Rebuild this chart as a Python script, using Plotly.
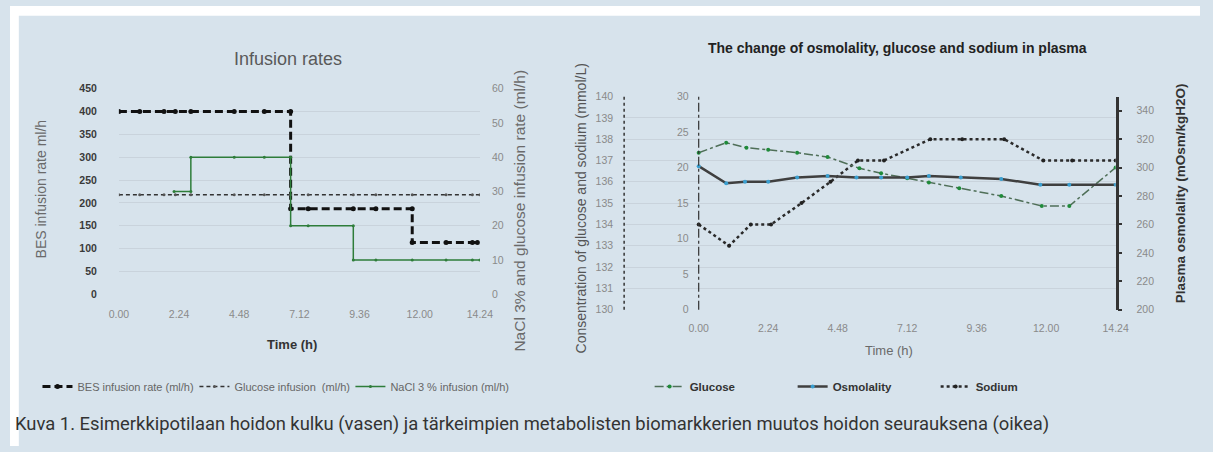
import plotly.graph_objects as go

FW, FH = 1213, 452

# ---------------- data ----------------
time_tickvals = [0, 2.4, 4.8, 7.2, 9.6, 12.0, 14.4]
time_ticktext = ["0.00", "2.24", "4.48", "7.12", "9.36", "12.00", "14.24"]

# Left chart: infusion rates
bes_t = [0, 0.83, 1.8, 2.25, 2.87, 4.6, 5.8, 6.85, 6.85, 7.55, 9.35, 10.25, 11.7, 11.7, 13.05, 14.1, 14.3]
bes_v = [400, 400, 400, 400, 400, 400, 400, 400, 187, 187, 187, 187, 187, 113, 113, 113, 113]

glu_inf_t = [0, 0.83, 1.8, 2.25, 2.87, 4.6, 5.8, 6.85, 7.55, 9.35, 10.25, 11.7, 13.05, 14.1, 14.4]
glu_inf_v = [29, 29, 29, 29, 29, 29, 29, 29, 29, 29, 29, 29, 29, 29, 29]

nacl_t = [2.2, 2.87, 2.87, 4.6, 5.8, 6.85, 6.85, 7.55, 9.35, 9.35, 10.25, 11.7, 13.05, 14.1, 14.4]
nacl_v = [30, 30, 40, 40, 40, 40, 20, 20, 20, 10, 10, 10, 10, 10, 10]

# Right chart: plasma values
na_t = [0, 1.05, 1.8, 2.5, 3.55, 4.55, 5.5, 6.4, 8.0, 9.1, 10.55, 11.9, 12.9, 14.4]
na_v = [134, 133, 134, 134, 135, 136, 137, 137, 138, 138, 138, 137, 137, 137]

osm_t = [0, 0.95, 1.6, 2.4, 3.4, 4.45, 5.45, 6.3, 7.2, 7.95, 9.05, 10.45, 11.8, 12.8, 14.4]
osm_v = [301, 289, 290, 290, 293, 294, 293, 293, 293, 294, 293, 292, 288, 288, 288]

glu_t = [0, 0.95, 1.65, 2.4, 3.4, 4.45, 5.55, 6.3, 7.2, 7.95, 9.0, 10.45, 11.85, 12.8, 14.4]
glu_v = [22.1, 23.5, 22.8, 22.5, 22.1, 21.5, 19.9, 19.2, 18.5, 17.9, 17.1, 16.0, 14.6, 14.6, 20.0]

# ---------------- helpers (screen pixel -> paper) ----------------
def px(x):
    return x / FW

def py(y):
    return 1 - y / FH

TICK_GREY = "#8a8a8a"
GRID = "#c9d3dc"
BG = "#d7e3ec"
FONT = "Liberation Sans, Arial, sans-serif"
NARROW = "Liberation Sans Narrow, Liberation Sans, sans-serif"

fig = go.Figure()

# ---- left chart traces (one legend box per entry to reproduce the spacing) ----
fig.add_trace(go.Scatter(
    x=bes_t, y=bes_v, name="BES infusion rate (ml/h)", mode="lines+markers",
    line=dict(color="#111111", width=3, dash="8px,4px"),
    marker=dict(size=5, color="#111111"), xaxis="x", yaxis="y", legend="legend"))
fig.add_trace(go.Scatter(
    x=glu_inf_t, y=glu_inf_v, name="Glucose infusion  (ml/h)", mode="lines+markers",
    line=dict(color="#333333", width=1.5, dash="4px,3px"),
    marker=dict(size=3, color="#555555"), xaxis="x", yaxis="y2", legend="legend3"))
fig.add_trace(go.Scatter(
    x=nacl_t, y=nacl_v, name="NaCl 3 % infusion (ml/h)", mode="lines+markers",
    line=dict(color="#2e7d3a", width=1.5),
    marker=dict(size=3, color="#2e7d3a"), xaxis="x", yaxis="y2", legend="legend4"))

# ---- right chart traces ----
fig.add_trace(go.Scatter(
    x=glu_t, y=glu_v, name="Glucose", mode="lines+markers",
    line=dict(color="#4f6f58", width=1.5, dash="dashdot"),
    marker=dict(size=4, color="#1f8a3a"), xaxis="x2", yaxis="y4", legend="legend2"))
fig.add_trace(go.Scatter(
    x=osm_t, y=osm_v, name="Osmolality", mode="lines+markers",
    line=dict(color="#3f3f3f", width=2.5),
    marker=dict(size=4, color="#3a9fd0"), xaxis="x2", yaxis="y5", legend="legend2"))
fig.add_trace(go.Scatter(
    x=na_t, y=na_v, name="Sodium", mode="lines+markers",
    line=dict(color="#2a2a2a", width=2.5, dash="dot"),
    marker=dict(size=4, color="#222222"), xaxis="x2", yaxis="y3", legend="legend2"))

# ---------------- geometry (screen pixels) ----------------
L_x0, L_x1 = 111, 479
L_ytop, L_ybot = 85, 296
R_ax0, R_x0, R_x1 = 626, 702, 1127
R_ytop, R_ybot = 93, 312
r_left = -(R_x0 - R_ax0) / (R_x1 - R_x0) * 14.4

tickf = dict(family=NARROW, size=10.5, color=TICK_GREY)
LEG_Y = 391
left_leg_font = dict(family=FONT, size=11, color="#666666")

def left_legend(x):
    return dict(orientation="h", x=px(x), y=py(LEG_Y), xanchor="left", yanchor="middle",
                bgcolor="rgba(0,0,0,0)", itemwidth=30, font=left_leg_font)

fig.update_layout(
    width=FW, height=FH,
    margin=dict(l=0, r=0, t=0, b=0),
    paper_bgcolor=BG, plot_bgcolor="rgba(0,0,0,0)",
    font=dict(family=FONT, color="#444444"),
    showlegend=True,
    xaxis=dict(domain=[px(L_x0), px(L_x1)], range=[0, 14.4], anchor="y",
               tickvals=time_tickvals, ticktext=time_ticktext,
               showgrid=False, zeroline=False, showline=False,
               ticks="", ticklabelstandoff=12, tickfont=tickf),
    yaxis=dict(domain=[py(L_ybot), py(L_ytop)], range=[0, 450], dtick=50, anchor="x",
               showgrid=True, gridcolor=GRID, gridwidth=1, zeroline=False, showline=False,
               ticks="", ticklabelstandoff=21,
               tickfont=dict(family=NARROW, size=10.5, color="#3a3a3a", weight="bold")),
    yaxis2=dict(range=[0, 60], dtick=10, overlaying="y", side="right", anchor="x",
                showgrid=False, zeroline=False, showline=False,
                ticks="", ticklabelstandoff=11, tickfont=tickf),
    xaxis2=dict(domain=[px(R_ax0), px(R_x1)], range=[r_left, 14.4], anchor="y3",
                tickvals=time_tickvals, ticktext=time_ticktext,
                showgrid=False, zeroline=False, showline=False,
                ticks="", ticklabelstandoff=11, tickfont=tickf),
    yaxis3=dict(domain=[py(R_ybot), py(R_ytop)], range=[130, 140], dtick=1, anchor="x2",
                showgrid=True, gridcolor=GRID, gridwidth=1, zeroline=False, showline=False,
                ticks="", ticklabelstandoff=10, tickfont=tickf),
    yaxis4=dict(range=[0, 30], dtick=5, overlaying="y3", side="left", anchor="free",
                position=px(R_x0), showgrid=False, zeroline=False, showline=False,
                ticks="", ticklabelstandoff=10, tickfont=tickf),
    yaxis5=dict(range=[200, 350], tickvals=[200, 220, 240, 260, 280, 300, 320, 340],
                overlaying="y3", side="right", anchor="x2",
                showgrid=False, zeroline=False, showline=True, linecolor="#333333", linewidth=2.5,
                ticks="outside", ticklen=4, tickwidth=1.5, tickcolor="#333333",
                ticklabelstandoff=12, tickfont=tickf),
    legend=left_legend(28),
    legend3=left_legend(188),
    legend4=left_legend(347),
    legend2=dict(orientation="h", x=px(652), y=py(LEG_Y), xanchor="left", yanchor="middle",
                 bgcolor="rgba(0,0,0,0)", itemwidth=30, entrywidth=98,
                 font=dict(family=FONT, size=11.5, color="#333333", weight="bold")),
)

# thin white strip at top/left as in the reference
fig.add_shape(type="rect", xref="paper", yref="paper", x0=0, x1=1, y0=py(10), y1=1,
              fillcolor="white", line=dict(width=0), layer="below")
fig.add_shape(type="rect", xref="paper", yref="paper", x0=0, x1=px(9), y0=0, y1=1,
              fillcolor="white", line=dict(width=0), layer="below")

# dotted sodium axis line and dash-dot glucose axis line
fig.add_shape(type="line", xref="paper", yref="paper", x0=px(R_ax0), x1=px(R_ax0),
              y0=py(R_ybot), y1=py(R_ytop), line=dict(color="#333333", width=1.5, dash="dot"))
fig.add_shape(type="line", xref="paper", yref="paper", x0=px(R_x0), x1=px(R_x0),
              y0=py(R_ybot), y1=py(R_ytop), line=dict(color="#333333", width=1.2, dash="dashdot"))

def ann(text, x, y, size=11, color="#555555", bold=False, angle=0, xanchor="center",
        yanchor="middle", family=FONT):
    fig.add_annotation(text=text, x=px(x), y=py(y), xref="paper", yref="paper",
                       showarrow=False, textangle=angle, xanchor=xanchor, yanchor=yanchor,
                       font=dict(family=family, size=size, color=color,
                                 weight="bold" if bold else "normal"))

ann("Infusion rates", 283, 54, size=18, color="#595959")
ann("The change of osmolality, glucose and sodium in plasma", 905, 43, size=14, color="#222222", bold=True)
ann("BES infusion rate ml/h", 32, 188, size=14, color="#6a6a6a", angle=-90)
ann("NaCl 3% and glucose infusion rate (ml/h)", 519, 210, size=15.5, color="#6a6a6a", angle=-90)
ann("Time (h)", 287, 348, size=13, color="#333333", bold=True)
ann("Consentration of glucose and sodium (mmol/L)", 583, 208, size=14, color="#555555", angle=-90)
ann("Plasma osmolality (mOsm/kgH2O)", 1194, 192, size=13.5, color="#333333", bold=True, angle=-90)
ann("Time (h)", 896, 354, size=13, color="#6a6a6a")
ann("Kuva 1. Esimerkkipotilaan hoidon kulku (vasen) ja tärkeimpien metabolisten biomarkkerien muutos hoidon seurauksena (oikea)",
    3, 429, size=18.4, color="#333333", xanchor="left", family="Roboto, sans-serif")

page_js = (
    "document.body.style.margin='0';"
    "document.body.style.overflow='hidden';"
    "document.body.style.background='" + BG + "';"
    "document.documentElement.style.background='" + BG + "';"
    "document.documentElement.style.overflow='hidden';"
)
fig.write_html("out.html", config={"displayModeBar": False}, post_script=page_js)
